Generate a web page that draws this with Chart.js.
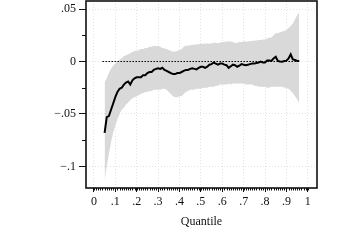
<!DOCTYPE html>
<html>
<head>
<meta charset="utf-8">
<script src="https://cdn.jsdelivr.net/npm/chart.js@4"></script>
<style>
  html, body { margin: 0; padding: 0; background: #fff; }
  .chart-box { width: 360px; height: 240px; position: relative; }
</style>
</head>
<body>
<div class="chart-box"><canvas id="quantileChart"></canvas></div>
<script>
// Quantile effect chart - estimate with confidence band

const quantiles = [
  0.05, 0.06, 0.07, 0.08, 0.09, 0.10, 0.11, 0.12, 0.13, 0.14,
  0.15, 0.16, 0.17, 0.18, 0.19, 0.20, 0.21, 0.22, 0.23, 0.24,
  0.25, 0.26, 0.27, 0.28, 0.29, 0.30, 0.31, 0.32, 0.33, 0.34,
  0.35, 0.36, 0.37, 0.38, 0.39, 0.40, 0.41, 0.42, 0.43, 0.44,
  0.45, 0.46, 0.47, 0.48, 0.49, 0.50, 0.51, 0.52, 0.53, 0.54,
  0.55, 0.56, 0.57, 0.58, 0.59, 0.60, 0.61, 0.62, 0.63, 0.64,
  0.65, 0.66, 0.67, 0.68, 0.69, 0.70, 0.71, 0.72, 0.73, 0.74,
  0.75, 0.76, 0.77, 0.78, 0.79, 0.80, 0.81, 0.82, 0.83, 0.84,
  0.85, 0.86, 0.87, 0.88, 0.89, 0.90, 0.91, 0.92, 0.93, 0.94,
  0.95, 0.96,
];

const estimate = [
  -0.068, -0.053, -0.052, -0.046, -0.040, -0.034, -0.029, -0.026, -0.025, -0.022,
  -0.020, -0.019, -0.022, -0.018, -0.016, -0.015, -0.015, -0.015, -0.013, -0.013,
  -0.011, -0.010, -0.010, -0.008, -0.007, -0.0065, -0.007, -0.006, -0.008, -0.009,
  -0.010, -0.011, -0.012, -0.012, -0.011, -0.011, -0.010, -0.009, -0.008, -0.008,
  -0.007, -0.0065, -0.007, -0.0075, -0.006, -0.005, -0.005, -0.006, -0.005, -0.003,
  -0.0025, -0.001, -0.002, -0.003, -0.002, -0.002, -0.003, -0.0035, -0.006, -0.0045,
  -0.003, -0.0035, -0.005, -0.004, -0.0025, -0.003, -0.0035, -0.003, -0.0025, -0.002,
  -0.002, -0.0015, -0.001, 0.000, -0.001, -0.001, 0.001, 0.001, 0.0005, 0.003,
  0.0045, 0.0005, 0.000, -0.0002, 0.0005, 0.0008, 0.003, 0.0068, 0.002, 0.0015,
  0.0005, 0.0005,
];

const upperBound = [
  -0.020, -0.016, -0.011, -0.007, -0.004, -0.002, 0.000, 0.002, 0.003, 0.005,
  0.006, 0.007, 0.008, 0.009, 0.010, 0.010, 0.011, 0.012, 0.012, 0.013,
  0.013, 0.014, 0.014, 0.015, 0.0145, 0.015, 0.014, 0.013, 0.0125, 0.012,
  0.011, 0.010, 0.0095, 0.0095, 0.010, 0.011, 0.012, 0.014, 0.015, 0.015,
  0.0155, 0.016, 0.016, 0.0165, 0.0165, 0.017, 0.017, 0.017, 0.0175, 0.017,
  0.0175, 0.018, 0.018, 0.0175, 0.018, 0.0185, 0.0185, 0.019, 0.019, 0.019,
  0.0185, 0.0175, 0.018, 0.0185, 0.0185, 0.019, 0.019, 0.019, 0.0195, 0.0195,
  0.020, 0.020, 0.0205, 0.0205, 0.021, 0.021, 0.022, 0.023, 0.023, 0.025,
  0.027, 0.027, 0.028, 0.0285, 0.029, 0.030, 0.032, 0.034, 0.036, 0.040,
  0.044, 0.047,
];

const lowerBound = [
  -0.113, -0.100, -0.088, -0.077, -0.068, -0.061, -0.055, -0.050, -0.046, -0.044,
  -0.041, -0.039, -0.037, -0.035, -0.034, -0.033, -0.032, -0.031, -0.030, -0.029,
  -0.029, -0.028, -0.028, -0.027, -0.027, -0.027, -0.027, -0.026, -0.026, -0.027,
  -0.029, -0.031, -0.033, -0.034, -0.034, -0.033, -0.033, -0.031, -0.029, -0.028,
  -0.027, -0.027, -0.027, -0.026, -0.026, -0.026, -0.025, -0.025, -0.025, -0.024,
  -0.024, -0.024, -0.023, -0.023, -0.022, -0.022, -0.022, -0.022, -0.021, -0.022,
  -0.021, -0.021, -0.021, -0.021, -0.021, -0.021, -0.022, -0.022, -0.022, -0.022,
  -0.023, -0.023, -0.024, -0.024, -0.024, -0.024, -0.025, -0.025, -0.024, -0.024,
  -0.024, -0.024, -0.024, -0.024, -0.025, -0.025, -0.026, -0.028, -0.030, -0.033,
  -0.036, -0.040,
];

// zero reference line (dotted)
const refLineX = [0.04, 0.96];
const refLineY = [0, 0];

// axes
const xTicks = [0, 0.1, 0.2, 0.3, 0.4, 0.5, 0.6, 0.7, 0.8, 0.9, 1];
const xTickLabels = ['0', '.1', '.2', '.3', '.4', '.5', '.6', '.7', '.8', '.9', '1'];
const yTicks = [-0.1, -0.05, 0, 0.05];
const yTickLabels = ['\u2212.1', '\u2212.05', '0', '.05'];
const yMinorTicks = [-0.075, -0.025, 0.025];
const xMinorTicks = Array.from({ length: 101 }, (_, i) => i / 100);

const toPoints = (xs, ys) => xs.map((q, i) => ({ x: q, y: ys[i] }));

/**
 * Frame around the plot and the small minor ticks
 */
const frameAndMinorTicks = {
  id: 'frameAndMinorTicks',
  afterDraw(chart) {
    const { ctx, chartArea: a, scales: { x, y } } = chart;
    ctx.save();
    ctx.strokeStyle = '#111';
    ctx.lineWidth = 1;
    ctx.beginPath();
    xMinorTicks.forEach(v => {
      const px = Math.round(x.getPixelForValue(v)) + 0.5;
      ctx.moveTo(px, a.bottom);
      ctx.lineTo(px, a.bottom + 2.5);
    });
    yMinorTicks.forEach(v => {
      const py = Math.round(y.getPixelForValue(v)) + 0.5;
      ctx.moveTo(a.left, py);
      ctx.lineTo(a.left - 4, py);
    });
    ctx.stroke();

    ctx.lineWidth = 1.6;
    ctx.strokeRect(a.left, a.top, a.right - a.left, a.bottom - a.top);
    ctx.restore();
  },
};

Chart.defaults.font.family = '"Liberation Serif", "DejaVu Serif", serif';
Chart.defaults.font.size = 12;
Chart.defaults.color = '#111';

new Chart(document.getElementById('quantileChart').getContext('2d'), {
  type: 'line',
  data: {
    datasets: [
      {
        label: 'Upper',
        data: toPoints(quantiles, upperBound),
        borderWidth: 0,
        borderColor: 'rgba(0,0,0,0)',
        backgroundColor: '#d9d9d9',
        pointRadius: 0,
        fill: '+1',
        order: 3,
      },
      {
        label: 'Lower',
        data: toPoints(quantiles, lowerBound),
        borderWidth: 0,
        borderColor: 'rgba(0,0,0,0)',
        pointRadius: 0,
        fill: false,
        order: 3,
      },
      {
        label: 'Zero',
        data: toPoints(refLineX, refLineY),
        borderColor: '#000',
        borderWidth: 1.2,
        borderDash: [1.5, 1.5],
        pointRadius: 0,
        fill: false,
        order: 2,
      },
      {
        label: 'Estimate',
        data: toPoints(quantiles, estimate),
        borderColor: '#000',
        borderWidth: 2,
        pointRadius: 0,
        tension: 0,
        fill: false,
        order: 1,
      },
    ],
  },
  options: {
    responsive: true,
    maintainAspectRatio: false,
    animation: false,
    layout: {
      padding: { top: 1, right: 43, left: 0, bottom: 0 },
    },
    scales: {
      x: {
        type: 'linear',
        min: -0.037,
        max: 1.043,
        afterBuildTicks: scale => {
          scale.ticks = xTicks.map(v => ({ value: v }));
        },
        afterFit: scale => {
          scale.height = 52;
          scale.paddingLeft = 0;
          scale.paddingRight = 0;
        },
        ticks: {
          maxRotation: 0,
          padding: 3,
          callback: (value) => xTickLabels[xTicks.indexOf(value)],
        },
        grid: {
          color: '#e2e2e2',
          lineWidth: 1,
          tickLength: 4,
          tickColor: '#111',
          tickWidth: 1,
        },
        border: {
          display: false,
          dash: [1, 2],
        },
        title: {
          display: true,
          text: 'Quantile',
          padding: { top: 0, bottom: 11 },
          font: { size: 12 },
        },
      },
      y: {
        type: 'linear',
        min: -0.1206,
        max: 0.0577,
        afterBuildTicks: scale => {
          scale.ticks = yTicks.map(v => ({ value: v }));
        },
        afterFit: scale => {
          scale.width = 86;
          scale.paddingTop = 0;
          scale.paddingBottom = 0;
        },
        ticks: {
          padding: 3,
          callback: (value) => yTickLabels[yTicks.indexOf(value)],
        },
        grid: {
          color: '#e2e2e2',
          lineWidth: 1,
          tickLength: 7,
          tickColor: '#111',
          tickWidth: 1,
        },
        border: {
          display: false,
          dash: [1, 2],
        },
      },
    },
    plugins: {
      legend: { display: false },
      tooltip: { enabled: false },
    },
  },
  plugins: [frameAndMinorTicks],
});
</script>
</body>
</html>
